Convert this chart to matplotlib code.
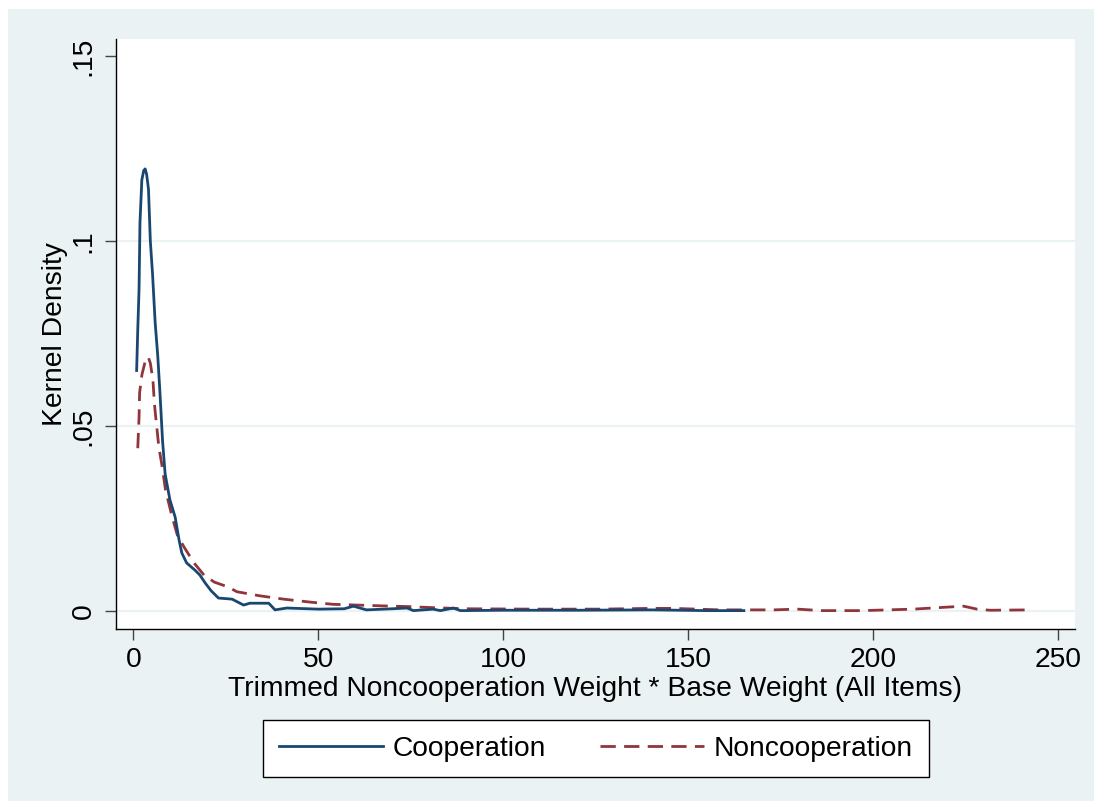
import matplotlib
matplotlib.use('Agg')
import matplotlib.pyplot as plt
from matplotlib.patches import Rectangle

plt.rcParams['font.family'] = ['Liberation Sans', 'DejaVu Sans']

# kernel density (x = weight, y = density)
coop_x = [0.9, 1.2, 1.55, 1.8, 2.3, 2.8, 3.2, 3.6, 4.1, 4.6, 5.2, 5.9, 6.6, 7.2, 7.9, 8.6,
          9.9, 11.3, 12.4, 13.1, 14.4, 16.7, 18.0, 19.4, 21.0, 23.0, 26.7, 29.8, 31.5, 36.6,
          38.3, 41.5, 50, 57, 59.5, 63, 70, 74, 75.7, 81, 83, 86.5, 88.4, 100, 120, 140, 155, 165]
coop_y = [0.065, 0.076, 0.087, 0.105, 0.1165, 0.119, 0.1195, 0.118, 0.114, 0.100, 0.091, 0.078,
          0.069, 0.059, 0.046, 0.037, 0.030, 0.0254, 0.019, 0.0157, 0.013, 0.011, 0.0097, 0.0076,
          0.0055, 0.0035, 0.0032, 0.0016, 0.0021, 0.0021, 0.0003, 0.0008, 0.0005, 0.0006, 0.0013,
          0.0003, 0.0006, 0.0008, 0.0001, 0.0005, 0.0001, 0.0008, 0.0001, 0.0002, 0.0002, 0.0003,
          0.0001, 0.0001]

noncoop_x = [1.2, 1.55, 1.7, 2.35, 3.3, 4.0, 4.6, 5.3, 5.7, 6.2, 6.9, 7.8, 8.7, 10.5, 11.9, 13.7,
             16.4, 19.1, 21.9, 25.6, 28, 34.2, 40.6, 47.8, 54, 60.5, 66.7, 74, 81, 90, 108, 126,
             139.7, 146, 158.6, 173, 179.5, 186, 197, 210.8, 222.6, 224.4, 228, 231.5, 243]
noncoop_y = [0.044, 0.0524, 0.059, 0.064, 0.0678, 0.0687, 0.067, 0.0624, 0.056, 0.051, 0.0443,
             0.039, 0.0327, 0.0254, 0.0205, 0.0173, 0.013, 0.0097, 0.0078, 0.0065, 0.0052, 0.0041,
             0.0032, 0.0024, 0.0018, 0.0016, 0.0014, 0.0012, 0.0009, 0.0006, 0.0005, 0.0005, 0.0007,
             0.0007, 0.0003, 0.0003, 0.0005, 0.0001, 0.0001, 0.0005, 0.0012, 0.0013, 0.0005, 0.0002,
             0.0003]

x_ticks = [0, 50, 100, 150, 200, 250]
y_ticks = [0, 0.05, 0.1, 0.15]
y_tick_labels = ['0', '.05', '.1', '.15']

FS = 20.3
W, H = 1094, 801
fig = plt.figure(figsize=(W / 100, H / 100), dpi=100, facecolor='white')
# stata-ish outer background, sits behind the axes
bg = Rectangle((8 / W, 0), 1 - 8 / W, 1 - 9 / H, transform=fig.transFigure,
               facecolor='#eaf2f3', edgecolor='none', zorder=-10)
fig.patches.append(bg)

ax = fig.add_axes([116 / W, 1 - 629.3 / H, (1075 - 116) / W, (629.3 - 39) / H])
ax.set_zorder(1)
ax.set_facecolor('white')

for yv in [0, 0.05, 0.1]:
    ax.axhline(yv, color='#eaf2f3', lw=1.6, zorder=1)

ax.plot(coop_x, coop_y, color='#1a476f', lw=2.0, label='Cooperation', zorder=3)
ax.plot(noncoop_x, noncoop_y, color='#90353b', lw=2.0, dashes=(5.5, 3), label='Noncooperation', zorder=2)

ax.set_xlim(-4.68, 254.5)
ax.set_ylim(-0.00495, 0.1546)
ax.set_xticks(x_ticks)
ax.set_yticks(y_ticks)
ax.set_yticklabels(y_tick_labels, rotation=90, va='center')

for s in ['top', 'right']:
    ax.spines[s].set_visible(False)
for s in ['left', 'bottom']:
    ax.spines[s].set_color('black')
    ax.spines[s].set_linewidth(1.0)

ax.tick_params(axis='both', direction='out', length=8, width=1.0, color='#444444',
               labelsize=FS, labelcolor='black')
ax.tick_params(axis='x', pad=5)
ax.tick_params(axis='y', pad=6)

ax.set_xlabel('Trimmed Noncooperation Weight * Base Weight (All Items)', fontsize=FS, labelpad=2)
ax.set_ylabel('Kernel Density', fontsize=FS, labelpad=2)

leg = ax.legend(loc='center', bbox_to_anchor=(596 / W, 1 - 748.5 / H), bbox_transform=fig.transFigure,
                ncol=2, fontsize=FS, frameon=True, fancybox=False, edgecolor='black', framealpha=1,
                handlelength=3.7, handletextpad=0.35, columnspacing=1.9, borderpad=0.55,
                borderaxespad=0)
leg.get_frame().set_linewidth(1.0)
leg.get_frame().set_facecolor('white')

fig.savefig('out.png', dpi=100, facecolor=fig.get_facecolor())
